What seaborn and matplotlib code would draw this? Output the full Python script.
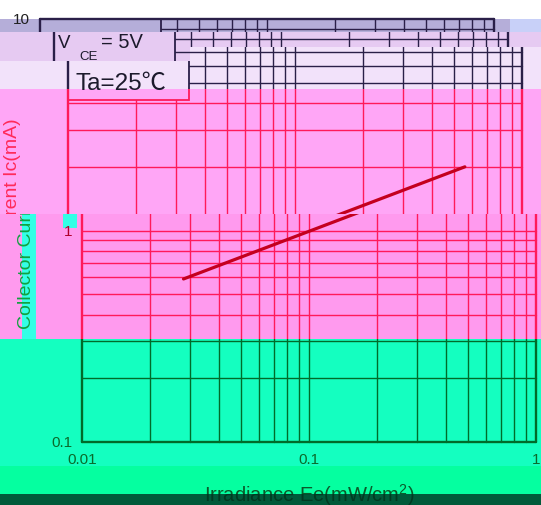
import matplotlib
matplotlib.use('Agg')
import matplotlib.pyplot as plt
import seaborn as sns
from matplotlib.patches import Rectangle

# Collector current vs irradiance (V_CE = 5V, Ta = 25C)
irradiance = [0.028, 0.56]
collector_current = [0.59, 2.0]

x_ticks = [0.01, 0.1, 1]
x_tick_labels = ['0.01', '0.1', '1']
y_ticks = [0.1, 1, 10]
y_tick_labels = ['0.1', '1', '10']

W, H = 541, 506
PLOT = (82, 20, 536, 443)  # left, top, right, bottom (pixels)
BOX = (82, 20, 203, 101)   # condition box in the upper left corner

# The scan is sheared and recoloured in horizontal strips:
# x0, y0, x1, y1, shift, background, lines, axis label colour, tick colour
STRIPS = [
    (0, 0, 541, 20, -42, '#ffffff', '#2a1f48', '#2a2a3a', '#202020'),
    (0, 20, 510, 33, -42, '#b5aed9', '#2a1f48', '#2a2a3a', '#202020'),
    (510, 20, 541, 33, -42, '#c8d0f8', '#2a1f48', '#2a2a3a', '#202020'),
    (0, 33, 190, 62, -28, '#e6caf2', '#2a1f48', '#2a2a3a', '#202020'),
    (190, 33, 541, 48, -28, '#e6caf2', '#2a1f48', '#2a2a3a', '#202020'),
    (0, 62, 190, 90, -14, '#f2e2fa', '#2a1f48', '#2a2a3a', '#202020'),
    (190, 48, 541, 90, -14, '#f2e2fa', '#2a1f48', '#2a2a3a', '#202020'),
    (0, 90, 541, 215, -14, '#ffa6f6', '#ff1a5a', '#ff2a5a', '#c00030'),
    (0, 215, 541, 340, 0, '#ff9aee', '#ff1a5a', '#12a040', '#b0002a'),
    (0, 340, 541, 467, 0, '#14ffc0', '#006b2a', '#0a6a2a', '#0a6a2a'),
    (0, 467, 541, 495, 0, '#05ffa0', '#006b2a', '#0a5a2a', '#0a5a2a'),
    (0, 495, 541, 506, 0, '#005a3a', '#003020', '#003a22', '#003a22'),
]
# cyan blocks left behind by the glitch
HIGHLIGHTS = [(22, 215, 36, 340), (63, 215, 77, 229),
              (78, 90, 105, 101), (120, 90, 133, 101), (162, 90, 176, 101)]

sns.set_style('white')
plt.rcParams['font.family'] = ['Liberation Sans', 'Noto Sans CJK SC', 'DejaVu Sans']
plt.rcParams['mathtext.fontset'] = 'custom'
plt.rcParams['mathtext.rm'] = 'Liberation Sans'
plt.rcParams['mathtext.it'] = 'Liberation Sans'
plt.rcParams['mathtext.bf'] = 'Liberation Sans:bold'


def px_rect(fig, x0, y0, x1, y1, **kw):
    return Rectangle((x0 / W, 1 - y1 / H), (x1 - x0) / W, (y1 - y0) / H,
                     transform=fig.transFigure, **kw)


def frac(px, py):
    left, top, right, bottom = PLOT
    return (px - left) / (right - left), (bottom - py) / (bottom - top)


def draw_strip(fig, strip):
    x0, y0, x1, y1, dx, bg, ink, lab, tick = strip
    fig.add_artist(px_rect(fig, x0, y0, x1, y1, facecolor=bg, edgecolor='none', zorder=-10))
    clip = px_rect(fig, x0, y0, x1, y1)

    left, top, right, bottom = PLOT
    ax = fig.add_axes([(left + dx) / W, 1 - bottom / H, (right - left) / W, (bottom - top) / H])
    ax.set_axis_off()
    ax.patch.set_facecolor('none')
    ax.set_xscale('log')
    ax.set_yscale('log')

    # log grid
    grid_x = [m * d for d in x_ticks[:-1] for m in range(2, 10)] + x_ticks[1:-1]
    grid_y = [m * d for d in y_ticks[:-1] for m in range(2, 10)] + y_ticks[1:-1]
    for v in grid_x:
        ax.axvline(v, color=ink, lw=1.0, zorder=1)
    for v in grid_y:
        ax.axhline(v, color=ink, lw=1.0, zorder=1)
    for v in (x_ticks[0], x_ticks[-1]):
        ax.axvline(v, color=ink, lw=1.7, zorder=4)
    for v in (y_ticks[0], y_ticks[-1]):
        ax.axhline(v, color=ink, lw=1.7, zorder=4)

    # condition box
    bx0, by0 = frac(BOX[0], BOX[3])
    bx1, by1 = frac(BOX[2], BOX[1])
    ax.add_patch(Rectangle((bx0, by0), bx1 - bx0, by1 - by0, transform=ax.transAxes,
                           facecolor=bg, edgecolor=ink, lw=1.3, zorder=2))
    ax.text(*frac(86, 48), 'V', transform=ax.transAxes, fontsize=13.5,
            color='#1c1a2c', zorder=5)
    ax.text(*frac(107, 60), 'CE', transform=ax.transAxes, fontsize=9.5,
            color='#1c1a2c', zorder=5)
    ax.text(*frac(129, 48), '= 5V', transform=ax.transAxes, fontsize=14.5,
            color='#1c1a2c', zorder=5)
    ax.text(*frac(89, 90), 'Ta=25℃', transform=ax.transAxes, fontsize=17.5,
            color='#1c1a2c', zorder=5)

    sns.lineplot(x=irradiance, y=collector_current, ax=ax, color='#c4001e', lw=2.3, zorder=3)

    for v, s in zip(x_ticks, x_tick_labels):
        ax.annotate(s, (v, y_ticks[0]), xytext=(0, -7), textcoords='offset points',
                    ha='center', va='top', fontsize=11, color=tick, annotation_clip=False)
    for v, s in zip(y_ticks, y_tick_labels):
        ax.annotate(s, (x_ticks[0], v), xytext=(-7, 0), textcoords='offset points',
                    ha='right', va='center', fontsize=11, color=tick, annotation_clip=False)

    ax.text(*frac(27, 224), 'Collector Current Ic(mA)', transform=ax.transAxes,
            rotation=90, ha='center', va='center', fontsize=14, color=lab)
    ax.text(0.5, frac(0, 502)[1], r'Irradiance Ee(mW/cm$^{2}$)', transform=ax.transAxes,
            ha='center', va='baseline', fontsize=14.5, color=lab)

    ax.set_xlim(x_ticks[0], x_ticks[-1])
    ax.set_ylim(y_ticks[0], y_ticks[-1])

    # each strip only shows its own slice of the chart
    for art in [*ax.lines, *ax.patches, *ax.texts]:
        art.set_clip_on(True)
        art.set_clip_path(clip)


fig = plt.figure(figsize=(W / 100, H / 100), dpi=100)
for strip in STRIPS:
    draw_strip(fig, strip)
for hx0, hy0, hx1, hy1 in HIGHLIGHTS:
    fig.add_artist(px_rect(fig, hx0, hy0, hx1, hy1, facecolor='#33ffe6',
                           edgecolor='none', zorder=-5))

fig.savefig('out.png', dpi=100)
